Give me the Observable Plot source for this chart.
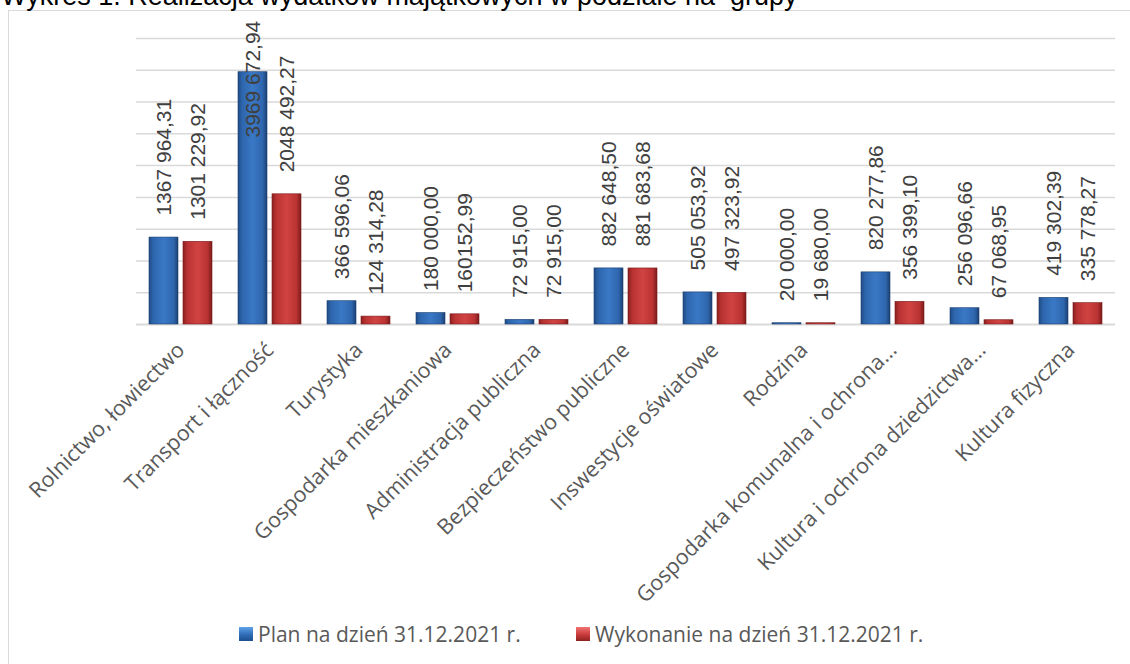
<!DOCTYPE html>
<html>
<head>
<meta charset="utf-8">
<script src="https://cdn.jsdelivr.net/npm/d3@7"></script>
<script src="https://cdn.jsdelivr.net/npm/@observablehq/plot@0.6"></script>
<style>
  html, body { margin: 0; padding: 0; background: #fff; }
  #wrap { position: relative; width: 1130px; height: 664px; overflow: hidden; background: #fff; }
  #title { position: absolute; left: 1px; top: -17px; font-family: "Liberation Sans", Arial, sans-serif; font-size: 27px; line-height: 27px; color: #000; white-space: pre; }
  #frame { position: absolute; left: 8px; top: 10px; width: 1300px; height: 800px; border: 1.5px solid #d9d9d9; box-sizing: border-box; }
  #chart { position: absolute; left: 0; top: 0; }
  .leg { position: absolute; top: 621px; font-family: "Open Sans", sans-serif; font-size: 21px; color: #595959; line-height: 26px; white-space: nowrap; display: flex; align-items: center; }
  .sw { display: inline-block; width: 14px; height: 14px; margin-right: 5px; }
</style>
</head>
<body>
<div id="wrap">
  <div id="frame"></div>
  <div id="title">Wykres 1. Realizacja wydatków majątkowych w podziale na  grupy</div>
  <div id="chart"></div>
  <div class="leg" id="leg1" style="left:239px"><span class="sw" style="background:linear-gradient(to bottom,#5ea3ea,#2f6cb5 55%,#1e4f8f)"></span><span id="leg1t"></span></div>
  <div class="leg" id="leg2" style="left:576px"><span class="sw" style="background:linear-gradient(to bottom,#f07474,#c93a3a 55%,#8f2222)"></span><span id="leg2t"></span></div>
</div>
<script>
const categories = [
  "Rolnictwo, łowiectwo",
  "Transport i łączność",
  "Turystyka",
  "Gospodarka mieszkaniowa",
  "Administracja publiczna",
  "Bezpieczeństwo publiczne",
  "Inswestycje oświatowe",
  "Rodzina",
  "Gospodarka komunalna i ochrona...",
  "Kultura i ochrona dziedzictwa...",
  "Kultura fizyczna"
];
const series = ["Plan na dzień 31.12.2021 r.", "Wykonanie na dzień 31.12.2021 r."];
const planLabels = ["1367 964,31", "3969 672,94", "366 596,06", "180 000,00", "72 915,00", "882 648,50", "505 053,92", "20 000,00", "820 277,86", "256 096,66", "419 302,39"];
const execLabels = ["1301 229,92", "2048 492,27", "124 314,28", "160152,99", "72 915,00", "881 683,68", "497 323,92", "19 680,00", "356 399,10", "67 068,95", "335 778,27"];
const yTicks = [0, 500000, 1000000, 1500000, 2000000, 2500000, 3000000, 3500000, 4000000, 4500000];

const parse = s => +s.replace(/\s/g, "").replace(",", ".");
const rows = [];
categories.forEach((c, i) => {
  rows.push({category: c, series: series[0], label: planLabels[i], value: parse(planLabels[i])});
  rows.push({category: c, series: series[1], label: execLabels[i], value: parse(execLabels[i])});
});

const W = 1130, H = 604, mT = 38, mB = 280, mL = 136, mR = 15;
const yMax = yTicks[yTicks.length - 1];
// labels that would leave the chart area are pushed down (Excel behaviour)
const yPix = d3.scaleLinear([0, yMax], [H - mB, mT]);
const labelGap = 22, labelLen = 118, labelTop = 19;
const labelCap = yPix.invert(labelTop + labelLen + labelGap);
rows.forEach(r => r.labelY = Math.min(r.value, labelCap));

const plan = rows.filter(r => r.series === series[0]);
const exec = rows.filter(r => r.series === series[1]);

const chart = Plot.plot({
  width: W, height: H,
  marginTop: mT, marginBottom: mB, marginLeft: mL, marginRight: mR,
  style: {fontFamily: "'Open Sans', sans-serif", fontSize: "21.5px", color: "#595959", background: "transparent", overflow: "visible"},
  fx: {domain: categories, padding: 0, axis: "bottom", tickRotate: -45, tickSize: 0, tickPadding: 22, label: null},
  x: {domain: series, paddingInner: 0.16, paddingOuter: 0.38, axis: null},
  y: {domain: [0, yMax], axis: null},
  marks: [
    Plot.ruleY(yTicks.slice(1), {stroke: "#d9d9d9", strokeWidth: 1.5}),
    Plot.ruleY([0], {stroke: "#d9d9d9", strokeWidth: 2}),
    Plot.barY(plan, {fx: "category", x: "series", y: "value", fill: "url(#gBlue)", stroke: "#1b3f70", strokeWidth: 0.6}),
    Plot.barY(exec, {fx: "category", x: "series", y: "value", fill: "url(#gRed)", stroke: "#7a1a1a", strokeWidth: 0.6}),
    Plot.tickY(plan.filter(d => d.value > 50000), {fx: "category", x: "series", y: "value", stroke: "url(#bBlue)", strokeWidth: 5, dy: 3}),
    Plot.tickY(exec.filter(d => d.value > 50000), {fx: "category", x: "series", y: "value", stroke: "url(#bRed)", strokeWidth: 5, dy: 3}),
    Plot.text(rows, {fx: "category", x: "series", y: "labelY", text: "label", rotate: -90, textAnchor: "start", dy: -labelGap,
      fontSize: 21, fontFamily: "'Liberation Sans', Arial, sans-serif", fill: "#404040"})
  ]
});

const defs = d3.select(chart).insert("defs", ":first-child");
function hgrad(id, stops) {
  const g = defs.append("linearGradient").attr("id", id).attr("x1", 0).attr("x2", 1).attr("y1", 0).attr("y2", 0);
  stops.forEach(([o, c]) => g.append("stop").attr("offset", o).attr("stop-color", c));
}
hgrad("gBlue", [[0, "#1f4c86"], [0.15, "#2e66ad"], [0.5, "#3a78c6"], [0.85, "#2e66ad"], [1, "#1b3f70"]]);
hgrad("gRed", [[0, "#8c2020"], [0.15, "#b93232"], [0.5, "#d14343"], [0.85, "#b93232"], [1, "#7a1a1a"]]);
hgrad("bBlue", [[0, "#3f82d2"], [0.2, "#5fa5ee"], [0.5, "#6cb2f5"], [0.8, "#5fa5ee"], [1, "#3f82d2"]]);
hgrad("bRed", [[0, "#d35050"], [0.2, "#ee6e6e"], [0.5, "#f57c7c"], [0.8, "#ee6e6e"], [1, "#d35050"]]);

document.getElementById("chart").appendChild(chart);
document.getElementById("leg1t").textContent = series[0];
document.getElementById("leg2t").textContent = series[1];
</script>
</body>
</html>
